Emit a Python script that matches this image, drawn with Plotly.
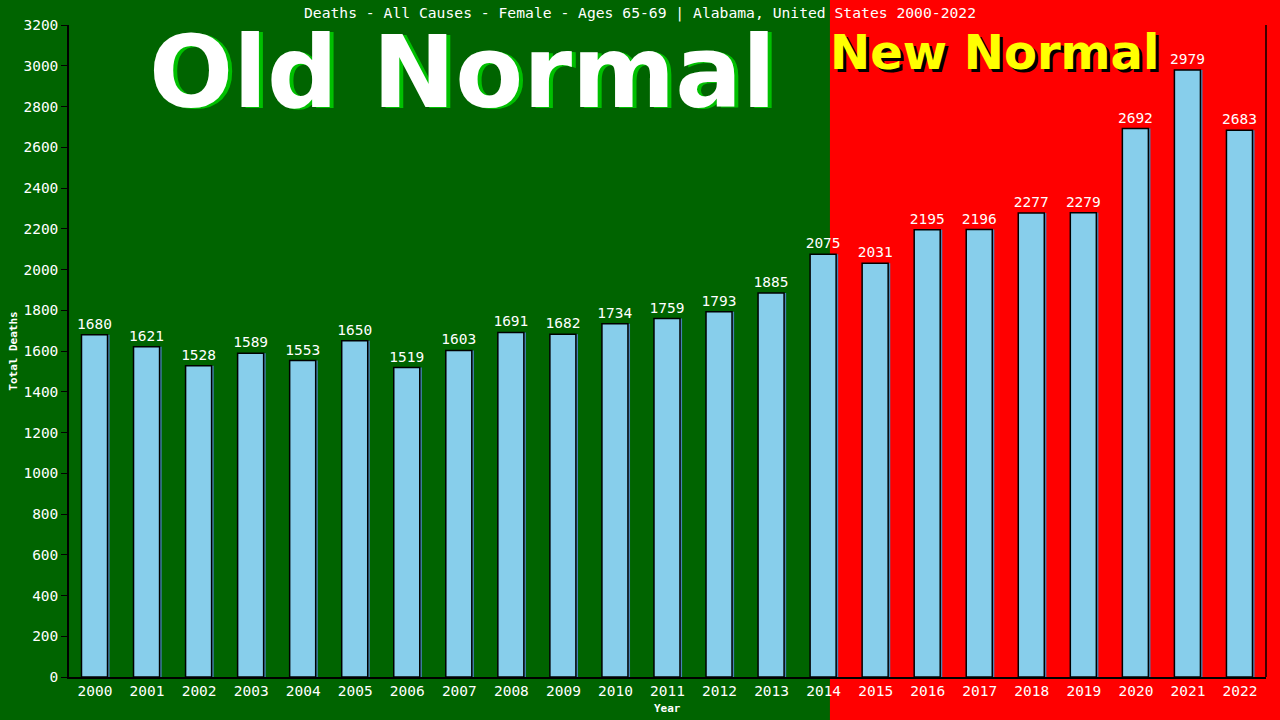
import plotly.graph_objects as go

# Deaths - all causes - female 65-69, Alabama
years = [str(y) for y in range(2000, 2023)]
deaths = [1680, 1621, 1528, 1589, 1553, 1650, 1519, 1603, 1691, 1682, 1734, 1759,
          1793, 1885, 2075, 2031, 2195, 2196, 2277, 2279, 2692, 2979, 2683]

title = "Deaths - All Causes - Female - Ages 65-69 | Alabama, United States 2000-2022"
mono = "DejaVu Sans Mono"
big = "DejaVu Sans"

fig = go.Figure()

# shadow bars (steelblue edge on the right)
fig.add_trace(go.Bar(x=years, y=deaths, width=0.5, offset=-0.22,
                     marker=dict(color="#4682b4", line=dict(width=0)),
                     hoverinfo="skip", showlegend=False))

fig.add_trace(go.Bar(x=years, y=deaths, width=0.5, offset=-0.26,
                     marker=dict(color="#87ceeb", line=dict(color="black", width=1.5)),
                     text=[str(d) for d in deaths], textposition="outside",
                     constraintext="none",
                     textfont=dict(family=mono, size=14.5, color="white"),
                     cliponaxis=False, showlegend=False))

# green / red halves
fig.add_shape(type="rect", xref="paper", yref="paper", x0=0.6357, x1=1.02, y0=-0.07, y1=1.05,
              fillcolor="#ff0000", line=dict(width=0), layer="below")
# right border
fig.add_shape(type="line", xref="paper", yref="paper", x0=1, x1=1, y0=0, y1=1,
              line=dict(color="black", width=1.5))

# Old Normal / New Normal captions with shadows
fig.add_annotation(text="<b>Old Normal</b>", xref="paper", yref="paper", x=0.329, y=0.927,
                   xanchor="center", yanchor="middle", xshift=4, yshift=-1, showarrow=False,
                   font=dict(family=big, size=99, color="#00c000"))
fig.add_annotation(text="<b>Old Normal</b>", xref="paper", yref="paper", x=0.329, y=0.927,
                   xanchor="center", yanchor="middle", showarrow=False,
                   font=dict(family=big, size=99, color="white"))
fig.add_annotation(text="<b>New Normal</b>", xref="paper", yref="paper", x=0.773, y=0.958,
                   xanchor="center", yanchor="middle", xshift=3, yshift=-3, showarrow=False,
                   font=dict(family=big, size=48, color="black"))
fig.add_annotation(text="<b>New Normal</b>", xref="paper", yref="paper", x=0.773, y=0.958,
                   xanchor="center", yanchor="middle", showarrow=False,
                   font=dict(family=big, size=48, color="#ffff00"))

# axis titles
fig.add_annotation(text="<b>Total Deaths</b>", xref="paper", yref="paper", x=-0.047, y=0.5,
                   xanchor="center", textangle=-90, showarrow=False,
                   font=dict(family=mono, size=11, color="white"))
fig.add_annotation(text="<b>Year</b>", xref="paper", yref="paper", x=0.5, y=-0.048,
                   yanchor="middle", showarrow=False,
                   font=dict(family=mono, size=11, color="white"))

fig.update_layout(
    width=1280, height=720,
    margin=dict(l=69, r=14, t=25, b=43),
    paper_bgcolor="#006400", plot_bgcolor="rgba(0,0,0,0)",
    barmode="overlay",
    title=dict(text=title, x=0.5, xanchor="center", y=0.982, yanchor="middle",
               font=dict(family=mono, size=14.7, color="white")),
    xaxis=dict(type="category", range=[-0.5, 22.5], showline=True, linecolor="black",
               linewidth=1.5, ticks="", showgrid=False,
               tickfont=dict(family=mono, size=14.5, color="white")),
    yaxis=dict(range=[0, 3200], dtick=200, showline=True, linecolor="black", linewidth=1.5,
               ticks="outside", ticklen=6, tickcolor="black", showgrid=False, zeroline=False,
               tickfont=dict(family=mono, size=14.5, color="white")),
)

fig.write_html("out.html", config={"displayModeBar": False},
               post_script="document.body.style.margin='0';")
